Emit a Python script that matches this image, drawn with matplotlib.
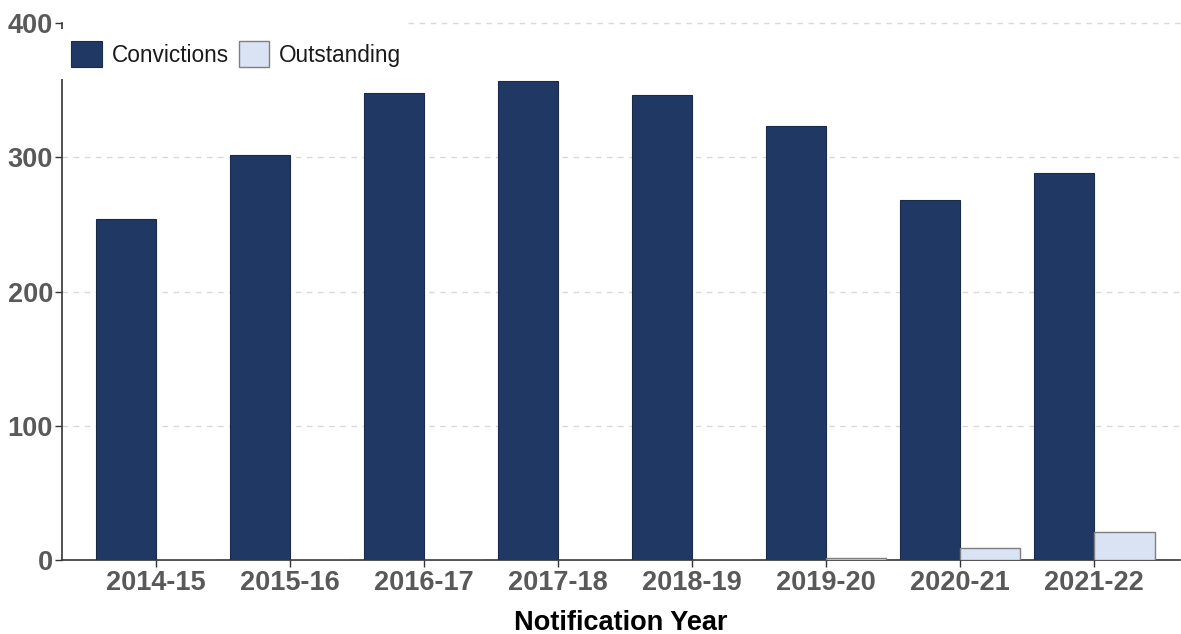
import matplotlib
matplotlib.use("Agg")
import matplotlib.pyplot as plt
import numpy as np

years = ["2014-15", "2015-16", "2016-17", "2017-18", "2018-19", "2019-20", "2020-21", "2021-22"]
convictions = [254, 302, 348, 357, 346, 323, 268, 288]
outstanding = [0, 0, 0, 0, 0, 1.5, 9, 21]

plt.rcParams['font.family'] = ['Liberation Sans', 'DejaVu Sans']

W, H = 1181, 634
fig = plt.figure(figsize=(W / 100, H / 100), dpi=100)
left_px, right_px, bottom_px, top_px = 62, 1180, 560, 23
ax = fig.add_axes([left_px / W, (H - bottom_px) / H, (right_px - left_px) / W, (bottom_px - top_px) / H])

x = np.arange(len(years))
w = 0.45
ax.bar(x - w/2, convictions, width=w, color="#203864", edgecolor="#1a2a4a", linewidth=0.8,
       label="Convictions", zorder=3)
ax.bar(x + w/2, outstanding, width=w, color="#dae3f3", edgecolor="#7f7f7f", linewidth=1.0,
       label="Outstanding", zorder=3)

ax.set_xlim(-0.7, 7.64)
ax.set_ylim(0, 400)
yticks = [0, 100, 200, 300, 400]
ax.set_yticks(yticks)
ax.set_xticks(x)
ax.set_xticklabels(years)

# dashed horizontal gridlines
grid_start = {100: 0, 200: 0, 300: 0, 400: (408 - left_px) / (right_px - left_px)}
for yv in yticks[1:]:
    ax.axhline(yv, xmin=grid_start[yv], xmax=1, linestyle=(0, (4, 4)), color="#d9d9d9",
               linewidth=1.0, zorder=0, clip_on=False)

for s in ["top", "right"]:
    ax.spines[s].set_visible(False)
for s in ["left", "bottom"]:
    ax.spines[s].set_color("#333333")
    ax.spines[s].set_linewidth(1.2)

ax.tick_params(axis="both", colors="#333333", length=5, width=1.0, labelsize=19.5, labelcolor="#595959")
for lab in ax.get_xticklabels() + ax.get_yticklabels():
    lab.set_fontweight("bold")
ax.tick_params(axis="x", pad=2.5)
ax.tick_params(axis="y", pad=1.5)

ax.set_xlabel("Notification Year", fontsize=19.5, fontweight="bold", color="#000000", labelpad=9.5)

leg = ax.legend(loc="upper left", bbox_to_anchor=(59 / W, (H - 29) / H),
                bbox_transform=fig.transFigure, ncol=2, frameon=True,
                fontsize=16.3, handlelength=1.33, handleheight=1.33, handletextpad=0.45,
                columnspacing=0.45, borderpad=0.55, borderaxespad=0.0, fancybox=False)
leg.get_frame().set_facecolor("white")
leg.get_frame().set_edgecolor("white")
leg.get_frame().set_linewidth(0)
leg.get_frame().set_alpha(1.0)
for t in leg.get_texts():
    t.set_color("#1a1a1a")
leg.set_zorder(5)

fig.savefig("out.png", dpi=100)
